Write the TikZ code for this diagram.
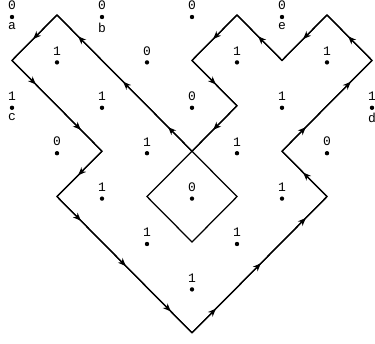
\documentclass[tikz,border=0pt]{standalone}
\usepackage{fontspec}
\setmainfont{Liberation Mono}
\usetikzlibrary{decorations.markings,arrows.meta}
\begin{document}
\begin{tikzpicture}[x=45pt,y=-45.4pt,
  curve/.style={line width=1.25pt,line join=miter},
  tipa/.style={postaction={decorate},decoration={markings,
    mark=at position 0.53 with {\arrow{Stealth[length=8pt,width=6.5pt,inset=2.5pt]}}}},
  tipb/.style={postaction={decorate},decoration={markings,
    mark=at position 0.265 with {\arrow{Stealth[length=8pt,width=6.5pt,inset=2.5pt]}},
    mark=at position 0.765 with {\arrow{Stealth[length=8pt,width=6.5pt,inset=2.5pt]}}}},
  tipc/.style={postaction={decorate},decoration={markings,
    mark=at position 0.177 with {\arrow{Stealth[length=8pt,width=6.5pt,inset=2.5pt]}},
    mark=at position 0.51 with {\arrow{Stealth[length=8pt,width=6.5pt,inset=2.5pt]}},
    mark=at position 0.843 with {\arrow{Stealth[length=8pt,width=6.5pt,inset=2.5pt]}}}},
  dot/.style={circle,fill=black,inner sep=0pt,minimum size=4.4pt,yshift=-2pt},
  every label/.style={inner sep=1pt,font=\fontsize{13}{13}\selectfont}
]
\useasboundingbox (-12pt,15pt) rectangle (363pt,-328pt);
% path vertices
\coordinate (A) at (1,0);
\coordinate (B) at (0,1);
\coordinate (C) at (2,3);
\coordinate (D) at (1,4);
\coordinate (E) at (4,7);
\coordinate (F) at (7,4);
\coordinate (G) at (6,3);
\coordinate (H) at (8,1);
\coordinate (I) at (7,0);
\coordinate (J) at (6,1);
\coordinate (K) at (5,0);
\coordinate (L) at (4,1);
\coordinate (M) at (5,2);
\coordinate (X) at (4,3);
\coordinate (N) at (3,4);
\coordinate (O) at (4,5);
\coordinate (P) at (5,4);
% closed curve
\draw[curve] (A) -- (B) -- (C) -- (D) -- (E) -- (F) -- (G) -- (H) -- (I) -- (J)
  -- (K) -- (L) -- (M) -- (X) -- (N) -- (O) -- (P) -- (X) -- cycle;
% arrows
\draw[curve,tipa] (A) -- (B);
\draw[curve,tipb] (B) -- (C);
\draw[curve,tipa] (C) -- (D);
\draw[curve,tipc] (D) -- (E);
\draw[curve,tipc] (E) -- (F);
\draw[curve,tipa] (F) -- (G);
\draw[curve,tipb] (G) -- (H);
\draw[curve,tipa] (H) -- (I);
\draw[curve,tipa] (I) -- (J);
\draw[curve,tipa] (J) -- (K);
\draw[curve,tipa] (K) -- (L);
\draw[curve,tipa] (L) -- (M);
\draw[curve,tipa] (M) -- (X);
\draw[curve,tipc] (X) -- (A);
% dots with values
\node[dot,label={[label distance=3.5pt]above:0},label={[label distance=2pt]below:a}] (p00) at (0,0) {};
\node[dot,label={[label distance=3.5pt]above:0},label={[label distance=2pt]below:b}] (p20) at (2,0) {};
\node[dot,label={[label distance=3.5pt]above:0}] (p40) at (4,0) {};
\node[dot,label={[label distance=3.5pt]above:0},label={[label distance=2pt]below:e}] (p60) at (6,0) {};
\node[dot,label={[label distance=3.5pt]above:1}] (p11) at (1,1) {};
\node[dot,label={[label distance=3.5pt]above:0}] (p31) at (3,1) {};
\node[dot,label={[label distance=3.5pt]above:1}] (p51) at (5,1) {};
\node[dot,label={[label distance=3.5pt]above:1}] (p71) at (7,1) {};
\node[dot,label={[label distance=3.5pt]above:1},label={[label distance=2pt]below:c}] (p02) at (0,2) {};
\node[dot,label={[label distance=3.5pt]above:1}] (p22) at (2,2) {};
\node[dot,label={[label distance=3.5pt]above:0}] (p42) at (4,2) {};
\node[dot,label={[label distance=3.5pt]above:1}] (p62) at (6,2) {};
\node[dot,label={[label distance=3.5pt]above:1},label={[label distance=2pt]below:d}] (p82) at (8,2) {};
\node[dot,label={[label distance=3.5pt]above:0}] (p13) at (1,3) {};
\node[dot,label={[label distance=3.5pt]above:1}] (p33) at (3,3) {};
\node[dot,label={[label distance=3.5pt]above:1}] (p53) at (5,3) {};
\node[dot,label={[label distance=3.5pt]above:0}] (p73) at (7,3) {};
\node[dot,label={[label distance=3.5pt]above:1}] (p24) at (2,4) {};
\node[dot,label={[label distance=3.5pt]above:0}] (p44) at (4,4) {};
\node[dot,label={[label distance=3.5pt]above:1}] (p64) at (6,4) {};
\node[dot,label={[label distance=3.5pt]above:1}] (p35) at (3,5) {};
\node[dot,label={[label distance=3.5pt]above:1}] (p55) at (5,5) {};
\node[dot,label={[label distance=3.5pt]above:1}] (p46) at (4,6) {};
\end{tikzpicture}
\end{document}
